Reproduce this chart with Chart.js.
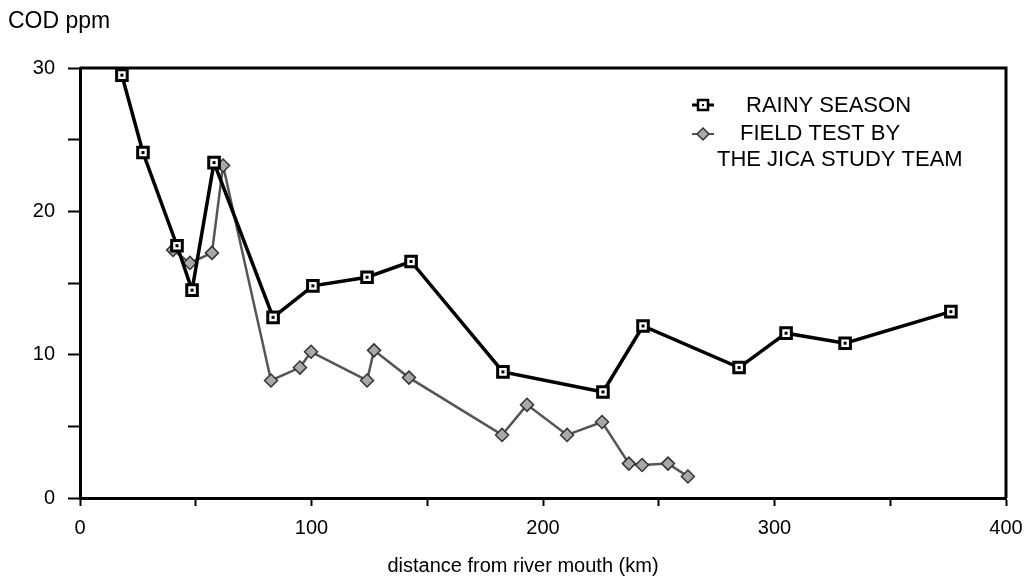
<!DOCTYPE html>
<html>
<head>
<meta charset="utf-8">
<script src="https://cdn.jsdelivr.net/npm/chart.js@4"></script>
<style>
  html, body { margin: 0; padding: 0; background: #fff; }
  #wrap { width: 1034px; height: 578px; }
</style>
</head>
<body>
<div id="wrap"><canvas id="c" width="1034" height="578"></canvas></div>
<script>
// ---- data ----
const rainyDistance = [18.1, 27.2, 41.9, 48.4, 57.9, 83.4, 100.6, 124.0, 143.0, 182.7, 225.9, 243.2, 284.7, 305.0, 330.5, 376.2];
const rainyCOD      = [29.5, 24.1, 17.6, 14.5, 23.4, 12.6, 14.8, 15.4, 16.5, 8.8, 7.4, 12.0, 9.1, 11.5, 10.8, 13.0];
const fieldDistance = [40.2, 47.5, 57.0, 61.8, 82.5, 95.0, 99.8, 124.0, 127.0, 142.1, 182.3, 193.1, 210.4, 225.5, 237.1, 242.8, 254.0, 262.6];
const fieldCOD      = [17.3, 16.4, 17.1, 23.2, 8.2, 9.1, 10.2, 8.2, 10.3, 8.4, 4.4, 6.5, 4.4, 5.3, 2.4, 2.3, 2.4, 1.5];
const seriesNames   = ['RAINY SEASON', 'FIELD TEST BY', 'THE JICA STUDY TEAM'];
const yAxisTitle    = 'COD ppm';
const xAxisTitle    = 'distance from river mouth (km)';
const xRange = [0, 400], xStep = 50, xLabelEvery = 100;
const yRange = [0, 30],  yStep = 5,  yLabelEvery = 10;

const FONT = '"Liberation Sans", Arial, Helvetica, sans-serif';

function toPoints(xs, ys) { return xs.map((x, i) => ({ x: x, y: ys[i] })); }

const extras = {
  id: 'extras',
  afterDatasetsDraw(chart) {
    const ctx = chart.ctx;
    const a = chart.chartArea;
    ctx.save();
    // frame: top and right
    ctx.strokeStyle = '#000';
    ctx.lineWidth = 3;
    ctx.beginPath();
    ctx.moveTo(a.left, a.top);
    ctx.lineTo(a.right, a.top);
    ctx.lineTo(a.right, a.bottom);
    ctx.stroke();
    // centre dots in the rainy-season squares
    const meta = chart.getDatasetMeta(0);
    ctx.fillStyle = '#000';
    meta.data.forEach(p => {
      ctx.fillRect(p.x - 1.5, p.y - 1.5, 3, 3);
    });
    ctx.restore();
  },
  afterDraw(chart) {
    const ctx = chart.ctx;
    ctx.save();
    ctx.fillStyle = '#000';
    ctx.textBaseline = 'middle';
    ctx.textAlign = 'left';
    ctx.font = '23px ' + FONT;
    ctx.fillText(yAxisTitle, 8, 22);

    // x axis title
    ctx.textAlign = 'center';
    ctx.font = '20px ' + FONT;
    ctx.fillText(xAxisTitle, 523, 566);
    ctx.textAlign = 'left';

    // legend
    ctx.font = '22px ' + FONT;
    // rainy symbol
    ctx.strokeStyle = '#000';
    ctx.lineWidth = 3;
    ctx.beginPath(); ctx.moveTo(692, 105); ctx.lineTo(714, 105); ctx.stroke();
    ctx.fillStyle = '#fff';
    ctx.fillRect(698, 100, 10, 10);
    ctx.lineWidth = 2.5;
    ctx.strokeRect(698, 100, 10, 10);
    ctx.fillStyle = '#000';
    ctx.fillRect(702, 104, 2, 2);
    ctx.fillText(seriesNames[0], 746, 106);
    // field symbol
    ctx.strokeStyle = '#555';
    ctx.lineWidth = 2;
    ctx.beginPath(); ctx.moveTo(692, 134); ctx.lineTo(714, 134); ctx.stroke();
    ctx.fillStyle = '#aaa';
    ctx.beginPath();
    ctx.moveTo(703, 128); ctx.lineTo(709, 134); ctx.lineTo(703, 140); ctx.lineTo(697, 134); ctx.closePath();
    ctx.fill(); ctx.strokeStyle = '#333'; ctx.lineWidth = 1.5; ctx.stroke();
    ctx.fillStyle = '#000';
    ctx.fillText(seriesNames[1], 740, 134);
    ctx.fillText(seriesNames[2], 717, 160);
    ctx.restore();
  }
};

new Chart(document.getElementById('c'), {
  type: 'scatter',
  data: {
    datasets: [
      {
        label: seriesNames[0],
        data: toPoints(rainyDistance, rainyCOD),
        showLine: true,
        borderColor: '#000',
        borderWidth: 3.5,
        pointStyle: 'rect',
        pointRadius: 7.5,
        pointBorderWidth: 3,
        pointBorderColor: '#000',
        pointBackgroundColor: '#fff',
        order: 1
      },
      {
        label: seriesNames[1] + ' ' + seriesNames[2],
        data: toPoints(fieldDistance, fieldCOD),
        showLine: true,
        borderColor: '#555',
        borderWidth: 2.5,
        pointStyle: 'rectRot',
        pointRadius: 6.5,
        pointBorderWidth: 1.5,
        pointBorderColor: '#333',
        pointBackgroundColor: '#a8a8a8',
        order: 2
      }
    ]
  },
  options: {
    responsive: false,
    animation: false,
    layout: { padding: { left: 0, right: 28, top: 68, bottom: 0 } },
    plugins: { legend: { display: false }, tooltip: { enabled: false } },
    scales: {
      x: {
        type: 'linear',
        min: xRange[0], max: xRange[1],
        afterFit(s) { s.height = 80; },
        ticks: {
          stepSize: xStep,
          autoSkip: false,
          maxRotation: 0,
          padding: 10,
          color: '#000',
          font: { family: FONT, size: 20 },
          callback: v => (v % xLabelEvery === 0 ? String(v) : '')
        },
        grid: { drawOnChartArea: false, drawTicks: true, tickLength: 8, tickColor: '#000', tickWidth: 2 },
        border: { display: true, color: '#000', width: 3 },
        title: { display: false }
      },
      y: {
        type: 'linear',
        min: yRange[0], max: yRange[1],
        afterFit(s) { s.width = 80; },
        ticks: {
          stepSize: yStep,
          autoSkip: false,
          padding: 13,
          color: '#000',
          font: { family: FONT, size: 20 },
          callback: v => (v % yLabelEvery === 0 ? String(v) : '')
        },
        grid: { drawOnChartArea: false, drawTicks: true, tickLength: 12, tickColor: '#000', tickWidth: 2 },
        border: { display: true, color: '#000', width: 3 }
      }
    }
  },
  plugins: [extras]
});
</script>
</body>
</html>
